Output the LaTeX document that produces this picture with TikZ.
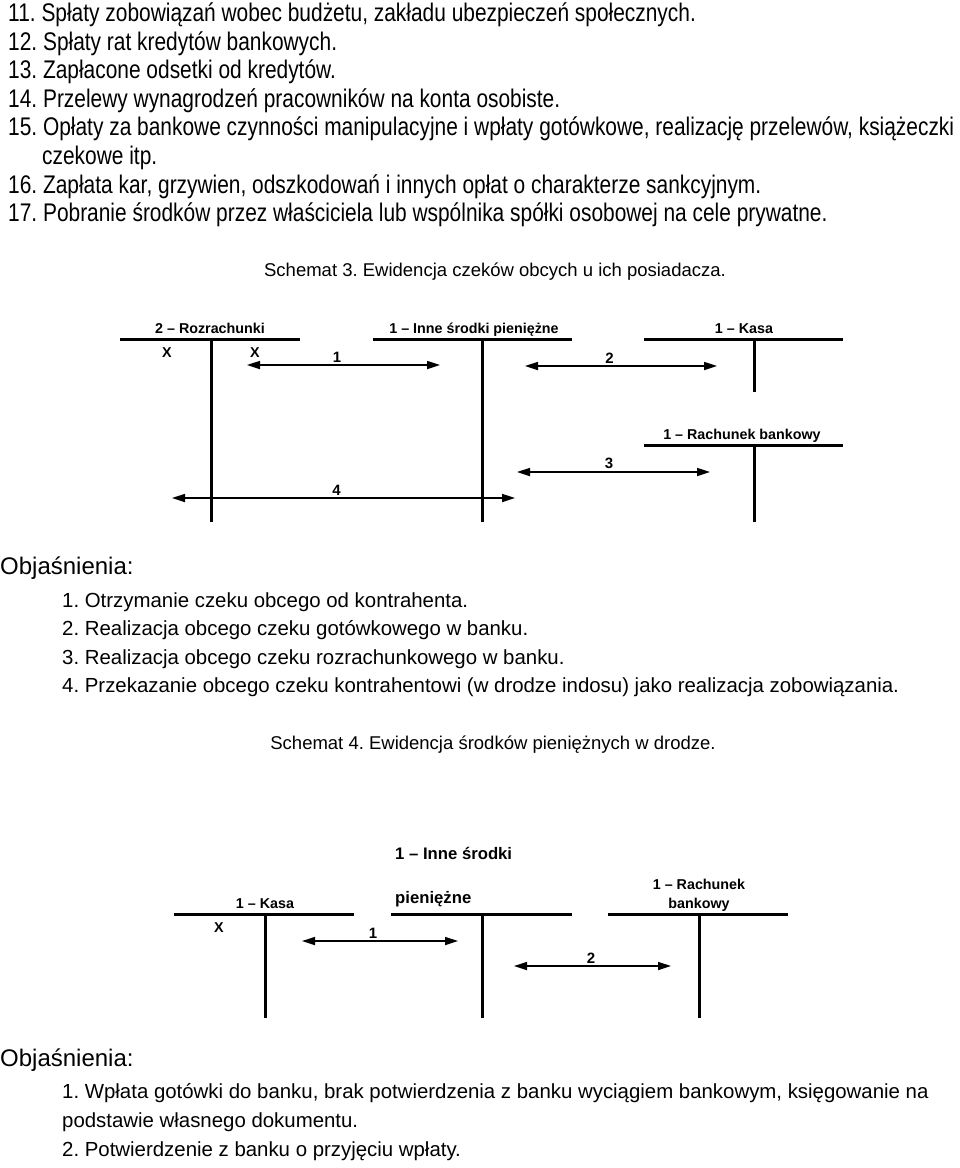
\documentclass[tikz,border=0pt]{standalone}
\usepackage{fontspec}
\setmainfont{Liberation Sans}
\newfontfamily\waska[FakeStretch=0.82]{Liberation Sans}
\usetikzlibrary{arrows.meta,positioning}

\tikzset{
    konto/.style={line width=3pt},
    operacja/.style={line width=1.7pt, {Triangle[length=13pt,width=8pt]}-{Triangle[length=13pt,width=8pt]}},
    nazwa/.style={inner sep=0pt, anchor=base, font=\fontsize{14.3}{16}\selectfont\bfseries},
    nazwaduza/.style={inner sep=0pt, anchor=base west, font=\fontsize{16.7}{19}\selectfont\bfseries},
    znak/.style={inner sep=0pt, above=2pt, font=\fontsize{15}{16}\selectfont\bfseries},
    punkt/.style={inner sep=0pt, anchor=base west, font=\waska\fontsize{25.5}{28}\selectfont},
    opis/.style={inner sep=0pt, anchor=base west, font=\fontsize{20.4}{24}\selectfont},
    naglowek/.style={inner sep=0pt, anchor=base west, font=\fontsize{24}{28}\selectfont},
    tytul/.style={inner sep=0pt, anchor=base, font=\fontsize{18.5}{22}\selectfont},
}

\begin{document}
\frenchspacing
\begin{tikzpicture}[x=1pt,y=-1pt]
    \useasboundingbox (0,0) rectangle (960,1168);

    % lista wydatkow
    \node[punkt] (p11) at (8,21.5) {11. Spłaty zobowiązań wobec budżetu, zakładu ubezpieczeń społecznych.};
    \node[punkt] (p12) at (8,50.1) {12. Spłaty rat kredytów bankowych.};
    \node[punkt] (p13) at (8,78.7) {13. Zapłacone odsetki od kredytów.};
    \node[punkt] (p14) at (8,107.3) {14. Przelewy wynagrodzeń pracowników na konta osobiste.};
    \node[punkt] (p15) at (8,135.9) {15. Opłaty za bankowe czynności manipulacyjne i wpłaty gotówkowe, realizację przelewów, książeczki};
    \node[punkt] (p15b) at (42,164.5) {czekowe itp.};
    \node[punkt] (p16) at (8,193.1) {16. Zapłata kar, grzywien, odszkodowań i innych opłat o charakterze sankcyjnym.};
    \node[punkt] (p17) at (8,221.7) {17. Pobranie środków przez właściciela lub wspólnika spółki osobowej na cele prywatne.};

    % schemat 3
    \node[tytul] (s3) at (495,276) {Schemat 3. Ewidencja czeków obcych u ich posiadacza.};

    \coordinate (rozL) at (120,339);
    \coordinate[right=180pt of rozL] (rozR);
    \coordinate (rozT) at (211,339);
    \coordinate[below=183pt of rozT] (rozB);
    \node[nazwa] (rozN) at (210,333) {2 – Rozrachunki};
    \node[nazwa] (rozX1) at (167,357) {X};
    \node[nazwa] (rozX2) at (255,357) {X};

    \coordinate (innL) at (373,339);
    \coordinate[right=199pt of innL] (innR);
    \coordinate (innT) at (482,339);
    \coordinate[below=183pt of innT] (innB);
    \node[nazwa] (innN) at (474,333) {1 – Inne środki pieniężne};

    \coordinate (kasL) at (644,339);
    \coordinate[right=199pt of kasL] (kasR);
    \coordinate (kasT) at (754,339);
    \coordinate[below=53pt of kasT] (kasB);
    \node[nazwa] (kasN) at (744,333) {1 – Kasa};

    \coordinate (rbL) at (644,445);
    \coordinate[right=199pt of rbL] (rbR);
    \coordinate (rbT) at (754,445);
    \coordinate[below=77pt of rbT] (rbB);
    \node[nazwa] (rbN) at (742,439) {1 – Rachunek bankowy};

    \foreach \k in {roz,inn,kas,rb}
        \draw[konto] (\k L) -- (\k R) (\k T) -- (\k B);

    \coordinate (o1L) at (247,365);
    \coordinate[right=193pt of o1L] (o1R);
    \coordinate (o2L) at (525,366);
    \coordinate[right=192pt of o2L] (o2R);
    \coordinate (o3L) at (517,472);
    \coordinate[right=193pt of o3L] (o3R);
    \coordinate (o4L) at (172,498);
    \coordinate[right=343pt of o4L] (o4R);
    \draw[operacja] (o1L) -- node[znak, pos=0.466] {1} (o1R);
    \draw[operacja] (o2L) -- node[znak, pos=0.44] {2} (o2R);
    \draw[operacja] (o3L) -- node[znak, pos=0.477] {3} (o3R);
    \draw[operacja] (o4L) -- node[znak, pos=0.48] {4} (o4R);

    \node[naglowek] (ob3) at (0,574.5) {Objaśnienia:};
    \node[opis] (ob31) at (62,607) {1. Otrzymanie czeku obcego od kontrahenta.};
    \node[opis] (ob32) at (62,635.6) {2. Realizacja obcego czeku gotówkowego w banku.};
    \node[opis] (ob33) at (62,664.2) {3. Realizacja obcego czeku rozrachunkowego w banku.};
    \node[opis] (ob34) at (62,692.8) {4. Przekazanie obcego czeku kontrahentowi (w drodze indosu) jako realizacja zobowiązania.};

    % schemat 4
    \node[tytul] (s4) at (493,749) {Schemat 4. Ewidencja środków pieniężnych w drodze.};

    \coordinate (k4L) at (174,914);
    \coordinate[right=180pt of k4L] (k4R);
    \coordinate (k4T) at (265,914);
    \coordinate[below=104pt of k4T] (k4B);
    \node[nazwa] (k4N) at (265,908) {1 – Kasa};
    \node[nazwa] (k4X) at (219,932) {X};

    \coordinate (i4L) at (391,914);
    \coordinate[right=181pt of i4L] (i4R);
    \coordinate (i4T) at (482,914);
    \coordinate[below=104pt of i4T] (i4B);
    \node[nazwaduza] (i4N) at (395,859) {1 – Inne środki};
    \node[nazwaduza] (i4N2) at (395,903) {pieniężne};

    \coordinate (r4L) at (608,914);
    \coordinate[right=180pt of r4L] (r4R);
    \coordinate (r4T) at (699,914);
    \coordinate[below=104pt of r4T] (r4B);
    \node[nazwa] (r4N) at (699,889) {1 – Rachunek};
    \node[nazwa] (r4N2) at (699,908) {bankowy};

    \foreach \k in {k4,i4,r4}
        \draw[konto] (\k L) -- (\k R) (\k T) -- (\k B);

    \coordinate (w1L) at (302,941);
    \coordinate[right=156pt of w1L] (w1R);
    \coordinate (w2L) at (514,966);
    \coordinate[right=157pt of w2L] (w2R);
    \draw[operacja] (w1L) -- node[znak, pos=0.455] {1} (w1R);
    \draw[operacja] (w2L) -- node[znak, pos=0.49] {2} (w2R);

    \node[naglowek] (ob4) at (0,1066.5) {Objaśnienia:};
    \node[opis] (ob41) at (62,1098) {1. Wpłata gotówki do banku, brak potwierdzenia z banku wyciągiem bankowym, księgowanie na};
    \node[opis] (ob41b) at (62,1127) {podstawie własnego dokumentu.};
    \node[opis] (ob42) at (62,1156) {2. Potwierdzenie z banku o przyjęciu wpłaty.};
\end{tikzpicture}
\end{document}
